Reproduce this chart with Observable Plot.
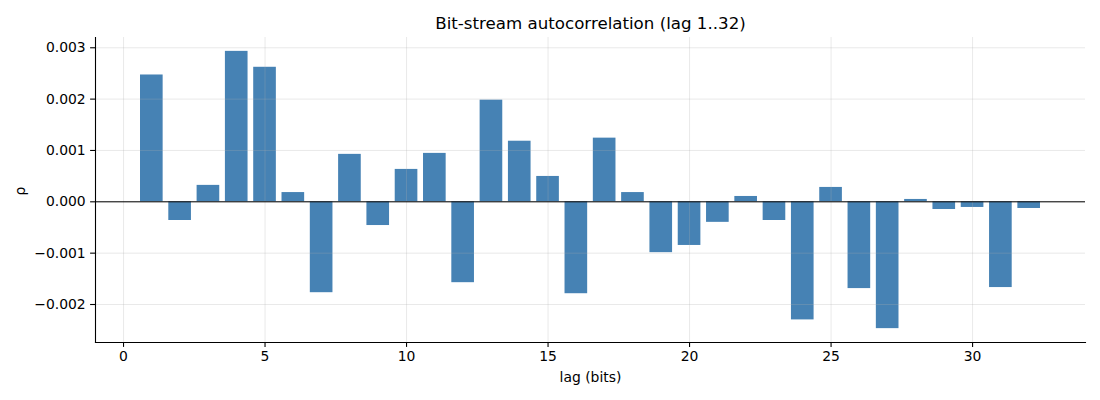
<!DOCTYPE html>
<html>
<head>
<meta charset="utf-8">
<script src="https://cdn.jsdelivr.net/npm/d3@7"></script>
<script src="https://cdn.jsdelivr.net/npm/@observablehq/plot@0.6"></script>
<style>
  html, body { margin: 0; padding: 0; background: #fff; }
  svg { font-family: "DejaVu Sans", sans-serif; }
</style>
</head>
<body>
<div id="chart"></div>
<script>
const lags = [1,2,3,4,5,6,7,8,9,10,11,12,13,14,15,16,17,18,19,20,21,22,23,24,25,26,27,28,29,30,31,32];
const rho = [0.00247,-0.000364,0.00032,0.00293,0.00262,0.00018,-0.00177,0.000924,-0.000462,0.000631,
             0.000943,-0.001575,0.00198,0.00118,0.000494,-0.00179,0.00124,0.00018,-0.00099,-0.00085,
             -0.0004,0.000104,-0.000364,-0.0023,0.00028,-0.00169,-0.00247,0.000046,-0.00015,-0.00011,
             -0.00167,-0.00013];
const xTicks = [0,5,10,15,20,25,30];
const yTicks = [-0.002,-0.001,0,0.001,0.002,0.003];
const title = "Bit-stream autocorrelation (lag 1..32)";
const xLabel = "lag (bits)";
const yLabel = "ρ";

const data = lags.map((l, i) => ({lag: l, rho: rho[i]}));
const barWidth = 0.8;

const chart = Plot.plot({
  width: 1100,
  height: 400,
  marginTop: 37,
  marginBottom: 58,
  marginLeft: 95,
  marginRight: 15,
  style: {fontFamily: "DejaVu Sans, sans-serif", fontSize: "13.9px", color: "#000", background: "#fff"},
  x: {domain: [-0.99, 33.99], ticks: xTicks},
  y: {domain: [-0.00274, 0.0032], ticks: yTicks},
  marks: [
    Plot.rectY(data, {x1: d => d.lag - barWidth / 2, x2: d => d.lag + barWidth / 2, y: "rho", fill: "#4682b4"}),
    Plot.gridX(xTicks, {stroke: "#b0b0b0", strokeOpacity: 0.35, strokeWidth: 0.8}),
    Plot.gridY(yTicks, {stroke: "#b0b0b0", strokeOpacity: 0.35, strokeWidth: 0.8}),
    Plot.ruleY([0], {stroke: "#000", strokeWidth: 1}),
    Plot.frame({anchor: "left", stroke: "#000", strokeWidth: 1.1}),
    Plot.frame({anchor: "bottom", stroke: "#000", strokeWidth: 1.1}),
    Plot.axisX(xTicks, {label: null, tickSize: 4.9, tickPadding: 3.5, fontSize: 13.9, stroke: "#000", strokeWidth: 1.1}),
    Plot.axisY(yTicks, {label: null, tickSize: 4.9, tickPadding: 4.9, fontSize: 13.9, tickFormat: d3.format(".3f"), stroke: "#000", strokeWidth: 1.1}),
    Plot.text([title], {frameAnchor: "top", dy: -14, lineAnchor: "middle", textAnchor: "middle", fontSize: 16.67, fill: "#000"}),
    Plot.text([xLabel], {frameAnchor: "bottom", dy: 35, lineAnchor: "middle", textAnchor: "middle", fontSize: 13.9, fill: "#000"}),
    Plot.text([yLabel], {frameAnchor: "left", dx: -75, dy: 1, rotate: -90, lineAnchor: "middle", textAnchor: "middle", fontSize: 13.9, fill: "#000"})
  ]
});
document.getElementById("chart").appendChild(chart);
</script>
</body>
</html>
